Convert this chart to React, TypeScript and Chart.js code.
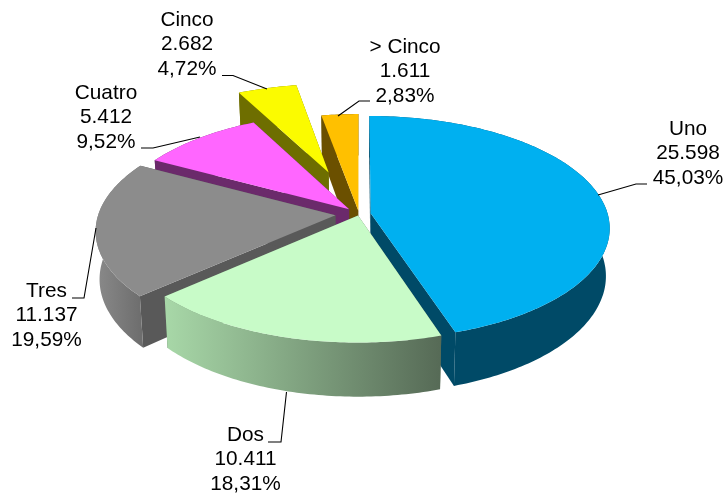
import React, { useEffect, useRef } from "react";
import { Chart, registerables } from "chart.js";

Chart.register(...registerables);

const categories = ["Uno", "Dos", "Tres", "Cuatro", "Cinco", "> Cinco"];
const counts = [25598, 10411, 11137, 5412, 2682, 1611];
const countLabels = ["25.598", "10.411", "11.137", "5.412", "2.682", "1.611"];
const percentLabels = ["45,03%", "18,31%", "19,59%", "9,52%", "4,72%", "2,83%"];
// explosion of every slice, in % of the radius
const explosion = [5, 1.5, 10, 6, 42, 3];

const topColors = ["#00B0F0", "#C8FBC8", "#8C8C8C", "#FF66FF", "#FBFB00", "#FFC000"];
const wallColors = ["#004A67", "#5E6F5E", "#595959", "#6B2A6B", "#6E6E00", "#6B5000"];
const rimLeft = ["#004A67", "#A8D8A8", "#8A8A8A", "#6B2A6B", "#6E6E00", "#6B5000"];
const rimRight = ["#004A67", "#566A56", "#6E6E6E", "#6B2A6B", "#6E6E00", "#6B5000"];
const paintOrder = [5, 4, 3, 2, 0, 1];

// camera: ground-plane centre, half axes, perspective strength, thickness
const CAM = { cx: 359, cy: 214, ax: 237, ay: 110, k: 0.13, depth: 47, taper: 0.015 };

type Layout = { x: number; y: number; leader: number[][] };
const labelLayout: Layout[] = [
  { x: 688, y: 129, leader: [[598, 195], [636, 184], [647, 184]] },
  { x: 245.5, y: 435, leader: [[286.5, 392], [281, 442], [268, 442]] },
  { x: 46.5, y: 291, leader: [[96, 228], [84, 298], [72, 298]] },
  { x: 106, y: 93, leader: [[200, 137], [153, 148], [141, 148]] },
  { x: 187, y: 20, leader: [[267, 89], [233, 75.5], [222, 75.5]] },
  { x: 405, y: 47, leader: [[338, 116], [359, 101], [370, 101]] },
];
const LINE_HEIGHT = 24.5;

function project(X: number, Y: number, z: number): [number, number] {
  const w = 1 - CAM.k * Y;
  const shrink = 1 - CAM.taper * z;
  return [CAM.cx + (CAM.ax * X * shrink) / w, CAM.cy + (CAM.ay * Y + CAM.depth * z) / w];
}

const pie3d = {
  id: "pie3d",
  beforeDatasetsDraw(chart: any) {
    const ctx: CanvasRenderingContext2D = chart.ctx;
    const arcs = chart.getDatasetMeta(0).data;
    const outline = (i: number) => {
      const a = arcs[i];
      const mid = (a.startAngle + a.endAngle) / 2;
      const e = (a.options.offset || 0) / 100;
      const ox = Math.cos(mid) * e;
      const oy = Math.sin(mid) * e;
      const n = Math.max(8, Math.ceil((a.endAngle - a.startAngle) * 60));
      const rim: { X: number; Y: number; ang: number }[] = [];
      for (let s = 0; s <= n; s++) {
        const ang = a.startAngle + ((a.endAngle - a.startAngle) * s) / n;
        rim.push({ X: Math.cos(ang) + ox, Y: Math.sin(ang) + oy, ang });
      }
      return { apex: { X: ox, Y: oy }, rim };
    };
    const poly = (pts: [number, number][], fill: any) => {
      ctx.beginPath();
      pts.forEach((p, j) => (j ? ctx.lineTo(p[0], p[1]) : ctx.moveTo(p[0], p[1])));
      ctx.closePath();
      ctx.fillStyle = fill;
      ctx.fill();
    };
    ctx.save();
    for (const i of paintOrder) {
      const { apex, rim } = outline(i);
      for (const r of [rim[0], rim[rim.length - 1]]) {
        poly(
          [project(apex.X, apex.Y, 0), project(r.X, r.Y, 0), project(r.X, r.Y, 1), project(apex.X, apex.Y, 1)],
          wallColors[i],
        );
      }
      const xs = rim.map((r) => project(r.X, r.Y, 0)[0]);
      const grad = ctx.createLinearGradient(Math.min(...xs), 0, Math.max(...xs), 0);
      grad.addColorStop(0, rimLeft[i]);
      grad.addColorStop(1, rimRight[i]);
      poly(
        [
          ...rim.map((r) => project(r.X, r.Y, 0)),
          ...rim.slice().reverse().map((r) => project(r.X, r.Y, 1)),
        ],
        grad,
      );
    }
    arcs.forEach((_: any, i: number) => {
      const { apex, rim } = outline(i);
      poly([project(apex.X, apex.Y, 0), ...rim.map((r) => project(r.X, r.Y, 0))], topColors[i]);
    });
    ctx.restore();
    return false;
  },
  afterDraw(chart: any) {
    const ctx: CanvasRenderingContext2D = chart.ctx;
    ctx.save();
    ctx.font = '20.8px "Liberation Sans", Arial, sans-serif';
    ctx.textAlign = "center";
    ctx.textBaseline = "middle";
    ctx.fillStyle = "#000000";
    ctx.strokeStyle = "#000000";
    ctx.lineWidth = 1.1;
    labelLayout.forEach((l, i) => {
      ctx.fillText(categories[i], l.x, l.y);
      ctx.fillText(countLabels[i], l.x, l.y + LINE_HEIGHT);
      ctx.fillText(percentLabels[i], l.x, l.y + LINE_HEIGHT * 2);
      ctx.beginPath();
      l.leader.forEach((p, j) => (j ? ctx.lineTo(p[0], p[1]) : ctx.moveTo(p[0], p[1])));
      ctx.stroke();
    });
    ctx.restore();
  },
};

export default function App() {
  const ref = useRef<HTMLCanvasElement>(null);
  useEffect(() => {
    document.body.style.margin = "0";
    document.body.style.background = "#ffffff";
    const chart = new Chart(ref.current as HTMLCanvasElement, {
      type: "pie",
      data: {
        labels: categories,
        datasets: [{ data: counts, backgroundColor: topColors, borderWidth: 0, offset: explosion }],
      },
      options: {
        responsive: false,
        animation: false,
        devicePixelRatio: 1,
        plugins: { legend: { display: false }, tooltip: { enabled: false } },
      } as any,
      plugins: [pie3d as any],
    });
    return () => chart.destroy();
  }, []);
  return <canvas ref={ref} width={725} height={494} style={{ display: "block" }} />;
}
